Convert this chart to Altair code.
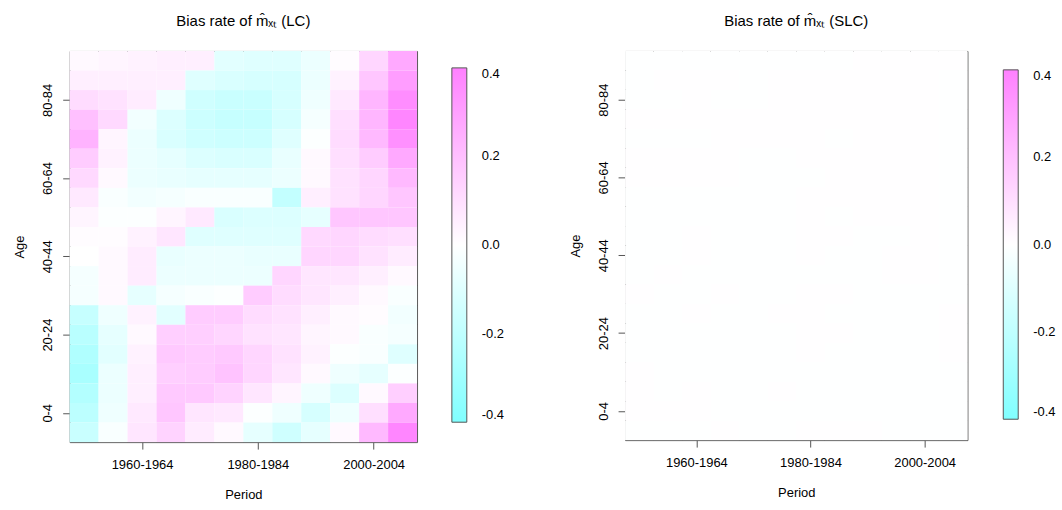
import altair as alt
import pandas as pd

# ---- axis / tick labels ----
period_labels = ["1950-1954", "1955-1959", "1960-1964", "1965-1969", "1970-1974", "1975-1979",
                 "1980-1984", "1985-1989", "1990-1994", "1995-1999", "2000-2004", "2005-2009"]
x_tick_idx = [3, 7, 11]
x_tick_labels = ["1960-1964", "1980-1984", "2000-2004"]
y_tick_idx = [2, 6, 10, 14, 18]
y_tick_labels = ["0-4", "20-24", "40-44", "60-64", "80-84"]
legend_values = [-0.4, -0.2, 0.0, 0.2, 0.4]

# ---- bias rates, rows listed from top age row (20) down to bottom row (1); 12 periods each ----
lc_rows = [
    [0.02, 0.03, 0.04, 0.05, 0.05, -0.09, -0.10, -0.10, -0.06, 0.01, 0.13, 0.27],
    [0.05, 0.05, 0.05, 0.05, -0.10, -0.12, -0.13, -0.13, -0.06, 0.04, 0.18, 0.31],
    [0.11, 0.09, 0.06, -0.05, -0.15, -0.17, -0.17, -0.13, -0.05, 0.07, 0.23, 0.36],
    [0.20, 0.12, -0.04, -0.11, -0.16, -0.18, -0.18, -0.13, -0.03, 0.10, 0.23, 0.38],
    [0.24, 0.03, -0.06, -0.12, -0.15, -0.16, -0.16, -0.10, -0.01, 0.11, 0.22, 0.35],
    [0.16, 0.04, -0.06, -0.08, -0.11, -0.12, -0.12, -0.07, 0.02, 0.10, 0.16, 0.27],
    [0.12, 0.02, -0.06, -0.07, -0.08, -0.08, -0.08, -0.06, 0.02, 0.09, 0.13, 0.22],
    [0.07, -0.02, -0.04, -0.03, -0.02, -0.02, -0.02, -0.19, 0.05, 0.09, 0.13, 0.18],
    [0.03, -0.01, -0.01, 0.03, 0.07, -0.12, -0.11, -0.11, -0.08, 0.18, 0.18, 0.18],
    [0.01, 0.01, 0.04, 0.08, -0.10, -0.10, -0.10, -0.10, 0.12, 0.13, 0.11, 0.10],
    [0.00, 0.02, 0.06, -0.07, -0.06, -0.06, -0.07, -0.07, 0.13, 0.13, 0.09, 0.06],
    [-0.03, 0.02, 0.06, -0.06, -0.06, -0.06, -0.06, 0.13, 0.08, 0.08, 0.05, 0.02],
    [-0.03, 0.02, -0.08, -0.03, -0.02, -0.01, 0.16, 0.11, 0.08, 0.05, 0.02, -0.02],
    [-0.18, -0.05, 0.04, -0.09, 0.16, 0.16, 0.11, 0.09, 0.05, 0.02, 0.01, -0.04],
    [-0.22, -0.08, 0.02, 0.15, 0.15, 0.13, 0.09, 0.08, 0.03, 0.02, -0.02, -0.03],
    [-0.25, -0.09, 0.04, 0.17, 0.16, 0.17, 0.13, 0.09, 0.04, -0.01, -0.02, -0.10],
    [-0.27, -0.06, 0.05, 0.15, 0.16, 0.19, 0.13, 0.08, 0.02, -0.05, -0.08, -0.01],
    [-0.24, -0.06, 0.05, 0.17, 0.17, 0.14, 0.08, 0.03, -0.05, -0.11, 0.02, 0.15],
    [-0.21, -0.05, 0.07, 0.18, 0.08, 0.07, -0.01, -0.05, -0.13, -0.05, 0.10, 0.27],
    [-0.17, -0.02, 0.08, 0.14, 0.06, 0.02, -0.08, -0.15, -0.08, 0.02, 0.22, 0.38],
]

slc_rows = [
    [-0.003, -0.003, -0.003, -0.003, -0.003, -0.003, -0.003, -0.003, 0.004, 0.004, 0.004, 0.004],
    [-0.003, 0.004, 0.004, 0.004, -0.003, 0.004, 0.004, 0.004, 0.004, 0.004, 0.004, -0.003],
    [-0.003, -0.003, 0.004, -0.003, -0.003, 0.004, 0.004, 0.004, 0.004, 0.004, 0.004, -0.003],
    [0.004, 0.004, 0.004, 0.004, 0.004, 0.004, 0.004, 0.004, 0.004, 0.004, 0.004, -0.003],
    [-0.003, -0.003, -0.003, 0.004, 0.004, 0.004, 0.004, -0.003, 0.004, 0.004, 0.004, -0.003],
    [0.004, 0.004, 0.004, 0.004, -0.003, -0.003, 0.004, 0.004, 0.004, 0.004, 0.004, -0.003],
    [0.004, 0.004, 0.004, 0.004, -0.003, -0.003, -0.003, 0.004, 0.004, 0.004, 0.004, -0.003],
    [-0.003, -0.003, -0.003, -0.003, -0.003, -0.003, 0.004, 0.004, 0.004, 0.004, 0.004, -0.003],
    [-0.003, -0.003, -0.003, -0.003, -0.003, -0.003, 0.004, -0.003, 0.004, 0.004, 0.004, -0.003],
    [-0.003, -0.003, 0.004, -0.003, -0.003, -0.003, 0.004, 0.004, -0.003, -0.003, 0.004, -0.003],
    [-0.003, -0.003, 0.004, -0.003, -0.003, -0.003, 0.004, -0.003, -0.003, 0.004, 0.004, -0.003],
    [-0.003, 0.004, -0.003, -0.003, -0.003, -0.003, -0.003, -0.003, -0.003, 0.004, 0.004, -0.003],
    [0.004, -0.003, -0.003, 0.004, -0.003, -0.003, 0.004, 0.004, -0.003, -0.003, -0.003, -0.003],
    [-0.003, -0.003, 0.004, -0.003, -0.003, 0.004, 0.004, -0.003, -0.003, -0.003, -0.003, 0.004],
    [-0.003, -0.003, -0.003, -0.003, -0.003, -0.003, 0.004, 0.004, -0.003, -0.003, -0.003, 0.004],
    [-0.003, -0.003, -0.003, -0.003, -0.003, -0.003, 0.004, -0.003, -0.003, -0.003, -0.003, 0.004],
    [0.004, -0.003, -0.003, -0.003, -0.003, -0.003, -0.003, -0.003, -0.003, -0.003, -0.003, -0.003],
    [0.004, -0.003, 0.004, -0.003, -0.003, 0.004, -0.003, -0.003, -0.003, -0.003, -0.003, -0.003],
    [0.004, 0.004, 0.004, -0.003, -0.003, -0.003, -0.003, -0.003, -0.003, -0.003, -0.003, -0.003],
    [-0.003, -0.003, -0.003, 0.004, -0.003, -0.003, 0.004, 0.004, 0.004, -0.003, -0.003, -0.003],
]

FONT = "Liberation Sans"


def to_frame(grid):
    recs = []
    n = len(grid)
    for r, vals in enumerate(grid):
        age = n - r
        for c, v in enumerate(vals):
            recs.append({"period": c + 1, "period_label": period_labels[c], "age": age, "bias": v})
    return pd.DataFrame(recs)


def tick_expr(idx, labels):
    expr = "''"
    for i, lab in reversed(list(zip(idx, labels))):
        expr = f"datum.value == {i} ? '{lab}' : ({expr})"
    return expr


def panel(grid, title, w, h, lx, ly, glen):
    df = to_frame(grid)
    return (
        alt.Chart(df)
        .transform_calculate(
            x0="datum.period - 0.5", x1="datum.period + 0.5",
            y0="datum.age - 0.5", y1="datum.age + 0.5",
        )
        .mark_rect(strokeWidth=0)
        .encode(
            x=alt.X("x0:Q",
                    scale=alt.Scale(domain=[0.5, 12.5], nice=False, zero=False),
                    axis=alt.Axis(values=x_tick_idx, labelExpr=tick_expr(x_tick_idx, x_tick_labels),
                                  title="Period", labelPadding=10, titlePadding=17)),
            x2="x1:Q",
            y=alt.Y("y0:Q",
                    scale=alt.Scale(domain=[0.5, 20.5], nice=False, zero=False),
                    axis=alt.Axis(values=y_tick_idx, labelExpr=tick_expr(y_tick_idx, y_tick_labels),
                                  title="Age", labelAngle=-90, labelAlign="center",
                                  labelBaseline="bottom", labelPadding=8, titlePadding=15)),
            y2="y1:Q",
            color=alt.Color("bias:Q",
                            scale=alt.Scale(domain=[-0.4, 0.0, 0.4],
                                            range=["#80FFFF", "#FFFFFF", "#FF80FF"],
                                            interpolate="rgb", clamp=True),
                            legend=alt.Legend(title=None, orient="none", direction="vertical",
                                              legendX=lx, legendY=ly,
                                              gradientLength=glen, gradientThickness=15,
                                              gradientStrokeColor="#555555", gradientStrokeWidth=1,
                                              values=legend_values,
                                              labelExpr="replace(format(datum.value, '.1f'), '\u2212', '-')",
                                              labelOffset=15, labelFontSize=13, labelFont=FONT,
                                              labelColor="black", labelBaseline="middle")),
        )
        .properties(width=w, height=h,
                    title=alt.Title(title, fontSize=15, font=FONT, fontWeight="normal",
                                    anchor="middle", offset=22, color="black"))
    )


left = panel(lc_rows, "Bias rate of m\u0302\u2093\u209c (LC)", 349, 393, 384, 17, 356)
right = panel(slc_rows, "Bias rate of m\u0302\u2093\u209c (SLC)", 344, 391, 380, 19, 351)

chart = (
    alt.hconcat(left, right, spacing=63)
    .resolve_scale(color="independent")
    .configure(padding={"left": 13, "top": 12, "right": 5, "bottom": 5}, background="white")
    .configure_view(stroke="#555555", strokeWidth=1)
    .configure_axis(domain=False, grid=False, tickColor="#555555", tickSize=7,
                    labelFont=FONT, labelFontSize=13, labelColor="black",
                    titleFont=FONT, titleFontSize=13, titleFontWeight="normal", titleColor="black")
)

chart.save("out.html", embed_options={"renderer": "svg", "actions": False})
